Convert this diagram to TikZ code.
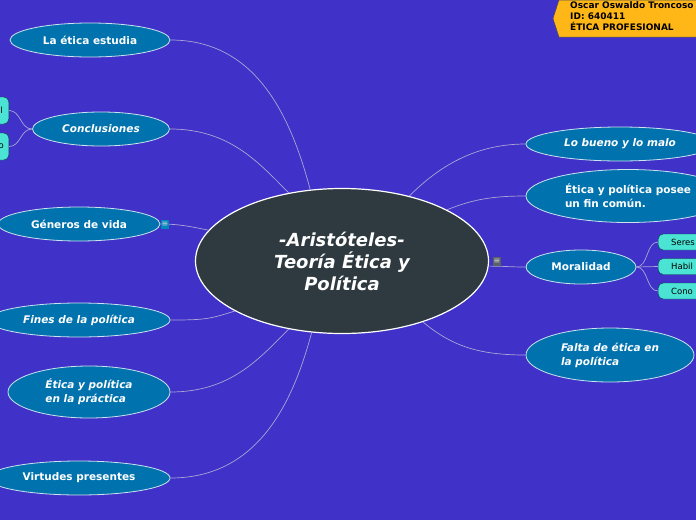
\documentclass[tikz,border=0pt]{standalone}
\usepackage{fontspec}
\setmainfont{DejaVu Sans}
\usetikzlibrary{shapes.geometric}
\definecolor{bgblue}{RGB}{64,49,200}
\definecolor{leafblue}{RGB}{0,115,175}
\definecolor{rootgray}{RGB}{46,58,64}
\definecolor{linkgray}{RGB}{170,165,215}
\definecolor{subcyan}{RGB}{75,228,212}
\definecolor{tagyellow}{RGB}{255,183,24}
\begin{document}
\begin{tikzpicture}[x=1pt,y=-1pt,
    root/.style={ellipse,draw=white,line width=1.2pt,fill=rootgray,text=white,
      font=\fontsize{18}{22}\selectfont\bfseries\itshape,align=center,inner sep=0pt},
    leaf/.style={ellipse,draw=white!80!leafblue,line width=0.8pt,fill=leafblue,text=white,
      font=\fontsize{10.5}{14}\selectfont\bfseries,align=left,inner sep=0pt,minimum height=34pt},
    leafit/.style={leaf,font=\fontsize{10.5}{14}\selectfont\bfseries\itshape},
    subleaf/.style={rectangle,rounded corners=5pt,fill=subcyan,draw=teal!50!black,line width=0.4pt,
      text=black,font=\fontsize{8.5}{9}\selectfont,inner sep=0pt},
    link/.style={draw=linkgray,line width=0.7pt},
    icon/.style={rectangle,inner sep=0pt,minimum width=8pt,minimum height=9pt,
      font=\fontsize{8}{8}\selectfont,text=white!85!black}]
  \clip (0,0) rectangle (696,520);
  \fill[bgblue] (0,0) rectangle (696,520);
  % central topic
  \node[root,minimum width=293pt,minimum height=145pt] (root) at (342,261)
    {-Aristóteles-\\Teoría Ética y\\Política};
  % left branches
  \node[leaf,minimum width=160pt] (etica) at (90,40) {La ética estudia};
  \node[leafit,minimum width=137pt] (concl) at (101,129) {Conclusiones};
  \node[leaf,minimum width=162pt] (generos) at (79,224) {Géneros de vida};
  \node[leafit,minimum width=182pt] (fines) at (79,320) {Fines de la política};
  \node[leafit,minimum width=162pt,minimum height=52pt] (practica) at (89,392) {Ética y política\\en la práctica};
  \node[leaf,minimum width=182pt] (virtudes) at (79,478) {Virtudes presentes};
  % right branches
  \node[leafit,minimum width=188pt] (bueno) at (620,144) {Lo bueno y lo malo};
  \node[leaf,minimum width=204pt,minimum height=53pt] (posee) at (628,196) {Ética y política posee\\un fin común.};
  \node[leaf,minimum width=110pt] (moral) at (581,267) {Moralidad};
  \node[leafit,minimum width=168pt,minimum height=54pt] (falta) at (610,355) {Falta de ética en\\la política};
  % sub topics
  \node[subleaf,anchor=east,minimum width=40pt,minimum height=27pt,text width=28pt,align=right] (concla) at (9,110.5) {l};
  \node[subleaf,anchor=east,minimum width=40pt,minimum height=27pt,text width=30pt,align=right] (conclb) at (9,146.5) {o};
  \node[subleaf,anchor=west,minimum width=60pt,minimum height=16pt,text width=34pt,align=left] (morala) at (658,242) {Seres};
  \node[subleaf,anchor=west,minimum width=60pt,minimum height=16pt,text width=34pt,align=left] (moralb) at (658,266.5) {Habil};
  \node[subleaf,anchor=west,minimum width=60pt,minimum height=16pt,text width=34pt,align=left] (moralc) at (658,291) {Cono};
  % connectors
  \draw[link] (etica.east) .. controls +(85,0) and +(-20,-75) .. (root.114);
  \draw[link] (concl.east) .. controls +(60,0) and +(-30,-30) .. (root.128);
  \draw[link] (generos.east) .. controls +(20,0) and +(-15,-3) .. (root.167);
  \draw[link] (fines.east) .. controls +(35,0) and +(-25,8) .. (root.205);
  \draw[link] (practica.east) .. controls +(60,0) and +(-30,30) .. (root.232);
  \draw[link] (virtudes.east) .. controls +(85,0) and +(-20,75) .. (root.247);
  \draw[link] (root.44) .. controls +(30,-30) and +(-50,0) .. (bueno.west);
  \draw[link] (root.26) .. controls +(25,-10) and +(-35,0) .. (posee.west);
  \draw[link] (root.-2) .. controls +(15,0) and +(-15,0) .. (moral.west);
  \draw[link] (root.323) .. controls +(30,25) and +(-45,0) .. (falta.west);
  \draw[link] (concl.west) .. controls +(-12,0) and +(12,0) .. (concla.east);
  \draw[link] (concl.west) .. controls +(-12,0) and +(12,0) .. (conclb.east);
  \draw[link] (moral.east) .. controls +(12,0) and +(-12,0) .. (morala.west);
  \draw[link] (moral.east) -- (moralb.west);
  \draw[link] (moral.east) .. controls +(12,0) and +(-12,0) .. (moralc.west);
  % collapse icons
  \node[icon,fill=leafblue!85!cyan] (gicon) at (165,224) {≡};
  \node[icon,fill=rootgray!80!white] (micon) at (497,261) {≡};
  % author tag
  \filldraw[fill=tagyellow,draw=black!70,line width=0.5pt]
    (700,0) -- (559,0) -- (553,18.5) -- (559,37) -- (700,37);
  \node[anchor=west,align=left,inner sep=0pt,font=\fontsize{9}{11}\selectfont\bfseries] (autor) at (570,16)
    {Oscar Oswaldo Troncoso\\ID: 640411\\ÉTICA PROFESIONAL};
\end{tikzpicture}
\end{document}
